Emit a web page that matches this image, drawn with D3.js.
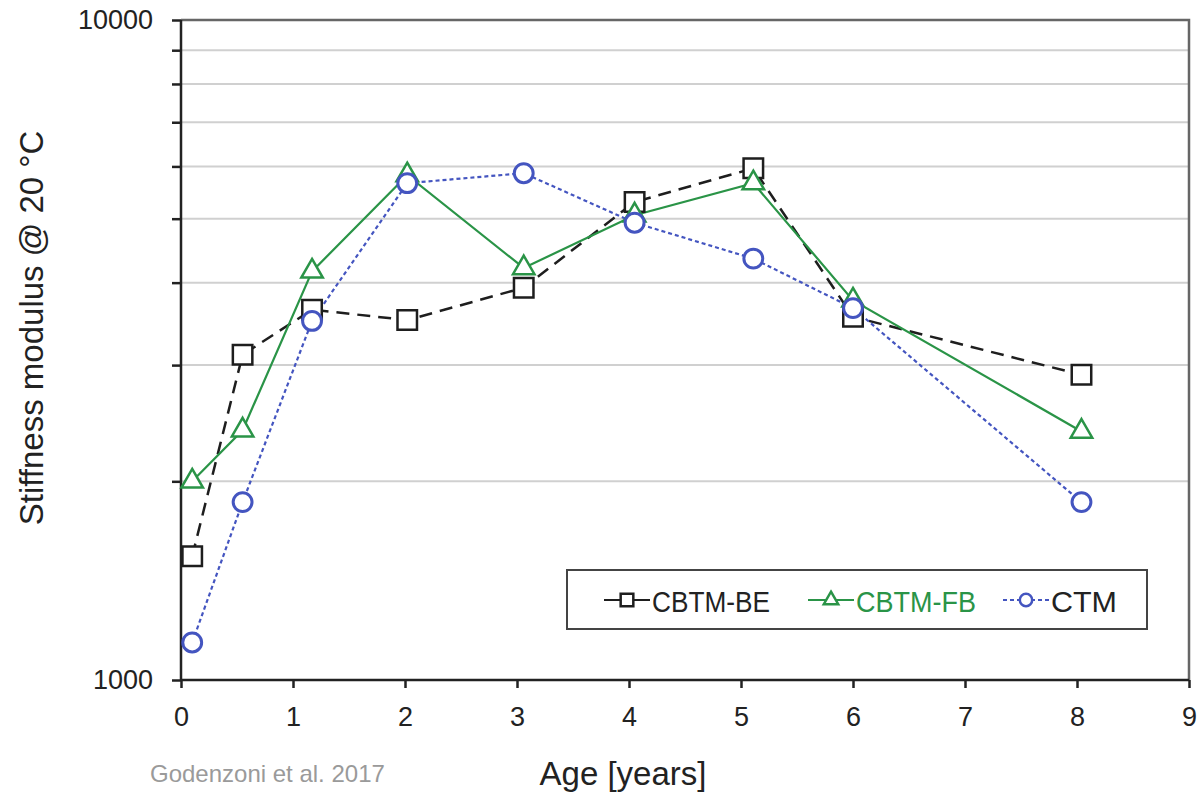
<!DOCTYPE html>
<html>
<head>
<meta charset="utf-8">
<script src="https://cdn.jsdelivr.net/npm/d3@7"></script>
<style>
  html, body { margin: 0; padding: 0; background: #fff; }
  svg { display: block; }
  text { font-family: "Liberation Sans", Arial, sans-serif; }
</style>
</head>
<body>
<svg id="chart" width="1197" height="793"></svg>
<script>
// Age of the cores (years) at each test campaign
const ages = [0.1, 0.55, 1.17, 2.02, 3.06, 4.05, 5.11, 6.0, 8.04];

// Stiffness modulus at 20 °C (MPa) for each mixture
const cbtmBE = [1540, 3110, 3640, 3510, 3930, 5300, 5960, 3550, 2900];
const cbtmFB = [2000, 2390, 4160, 5820, 4210, 5060, 5660, 3760, 2380];
const ctm    = [1140, 1860, 3500, 5660, 5860, 4930, 4350, 3660, 1860];

const seriesNames = ["CBTM-BE", "CBTM-FB", "CTM"];
const xTicks = [0, 1, 2, 3, 4, 5, 6, 7, 8, 9];
const yLabelTicks = [1000, 10000];
const yMinorTicks = [2000, 3000, 4000, 5000, 6000, 7000, 8000, 9000];

const plotLeft = 181, plotRight = 1189, plotTop = 20, plotBottom = 680;

const svg = d3.select("#chart");

const x = d3.scaleLinear().domain([0, 9]).range([plotLeft, plotRight]);
const y = d3.scaleLog().domain([1000, 10000]).range([plotBottom, plotTop]);

// horizontal gridlines at each intermediate step of the decade
svg.append("g")
  .selectAll("line")
  .data(yMinorTicks)
  .join("line")
  .attr("x1", plotLeft).attr("x2", plotRight)
  .attr("y1", d => y(d)).attr("y2", d => y(d))
  .attr("stroke", "#d0d0d0").attr("stroke-width", 2);

// top and right frame
svg.append("path")
  .attr("d", `M${plotLeft},${plotTop}H${plotRight}V${plotBottom}`)
  .attr("fill", "none").attr("stroke", "#666").attr("stroke-width", 2.5);

// y axis
const yAxis = d3.axisLeft(y)
  .tickValues(yLabelTicks.concat(yMinorTicks))
  .tickSize(9)
  .tickPadding(19)
  .tickFormat(d => yLabelTicks.includes(d) ? String(d) : "");
const gy = svg.append("g").attr("transform", `translate(${plotLeft},0)`).call(yAxis);
gy.select(".domain").attr("stroke", "#222").attr("stroke-width", 2.5).attr("d", `M0,${plotTop}V${plotBottom}`);
gy.selectAll(".tick line").attr("stroke", "#222").attr("stroke-width", 2.5);
gy.selectAll(".tick text").attr("font-size", 27).attr("fill", "#222")
  .attr("font-family", "'Liberation Sans', Arial, sans-serif");

// x axis
const xAxis = d3.axisBottom(x).tickValues(xTicks).tickSize(8).tickPadding(19).tickFormat(d3.format("d"));
const gx = svg.append("g").attr("transform", `translate(0,${plotBottom})`).call(xAxis);
gx.select(".domain").attr("stroke", "#222").attr("stroke-width", 2.5).attr("d", `M${plotLeft},0H${plotRight}`);
gx.selectAll(".tick line").attr("stroke", "#222").attr("stroke-width", 2.5);
gx.selectAll(".tick text").attr("font-size", 27).attr("fill", "#222")
  .attr("font-family", "'Liberation Sans', Arial, sans-serif");

// axis titles
svg.append("text")
  .attr("transform", `translate(43,${(plotTop + plotBottom) / 2 - 22}) rotate(-90)`)
  .attr("text-anchor", "middle")
  .attr("font-size", 33).attr("fill", "#222")
  .text("Stiffness modulus @ 20 °C");

svg.append("text")
  .attr("x", 623).attr("y", 785)
  .attr("text-anchor", "middle")
  .attr("font-size", 33).attr("fill", "#222")
  .text("Age [years]");

// source note
svg.append("text")
  .attr("x", 150).attr("y", 782)
  .attr("font-family", "Lato, 'Open Sans', sans-serif")
  .attr("font-size", 24).attr("fill", "#9a9a9a")
  .text("Godenzoni et al. 2017");

// series styling
const styles = [
  { values: cbtmBE, color: "#1e1e1e", width: 2.5, dash: "13,8", symbol: d3.symbolSquare, size: 380, legendSize: 160 },
  { values: cbtmFB, color: "#2a9447", width: 2.2, dash: null, symbol: d3.symbolTriangle, size: 200, legendSize: 90 },
  { values: ctm,    color: "#4455c0", width: 2.2, dash: "4,3", symbol: d3.symbolCircle, size: 280, legendSize: 120 }
];

const line = d3.line().x(d => x(d[0])).y(d => y(d[1]));

styles.forEach(s => {
  const pts = ages.map((a, i) => [a, s.values[i]]);
  svg.append("path")
    .datum(pts)
    .attr("d", line)
    .attr("fill", "none")
    .attr("stroke", s.color)
    .attr("stroke-width", s.width)
    .attr("stroke-dasharray", s.dash);
});

styles.forEach(s => {
  const pts = ages.map((a, i) => [a, s.values[i]]);
  svg.append("g")
    .selectAll("path")
    .data(pts)
    .join("path")
    .attr("transform", d => `translate(${x(d[0])},${y(d[1])})`)
    .attr("d", d3.symbol().type(s.symbol).size(s.size))
    .attr("fill", "#fff")
    .attr("stroke", s.color)
    .attr("stroke-width", s.symbol === d3.symbolCircle ? 3 : 2.5);
});

// legend
const lg = svg.append("g");
lg.append("rect")
  .attr("x", 567).attr("y", 570).attr("width", 580).attr("height", 59)
  .attr("fill", "#fff").attr("stroke", "#444").attr("stroke-width", 2);

const legendX = [604, 808, 1003];
const legendTextW = [118, 120, 66];
styles.forEach((s, i) => {
  const x0 = legendX[i];
  const g = lg.append("g");
  g.append("line")
    .attr("x1", x0).attr("x2", x0 + 46)
    .attr("y1", 600).attr("y2", 600)
    .attr("stroke", s.color).attr("stroke-width", 2.2)
    .attr("stroke-dasharray", i === 2 ? "4,3" : null);
  g.append("path")
    .attr("transform", `translate(${x0 + 23},600)`)
    .attr("d", d3.symbol().type(s.symbol).size(s.legendSize))
    .attr("fill", "#fff").attr("stroke", s.color).attr("stroke-width", 2.5);
  g.append("text")
    .attr("x", x0 + 48).attr("y", 612)
    .attr("font-size", 29)
    .attr("fill", i === 1 ? s.color : "#222")
    .attr("textLength", legendTextW[i])
    .attr("lengthAdjust", "spacingAndGlyphs")
    .text(seriesNames[i]);
});
</script>
</body>
</html>
